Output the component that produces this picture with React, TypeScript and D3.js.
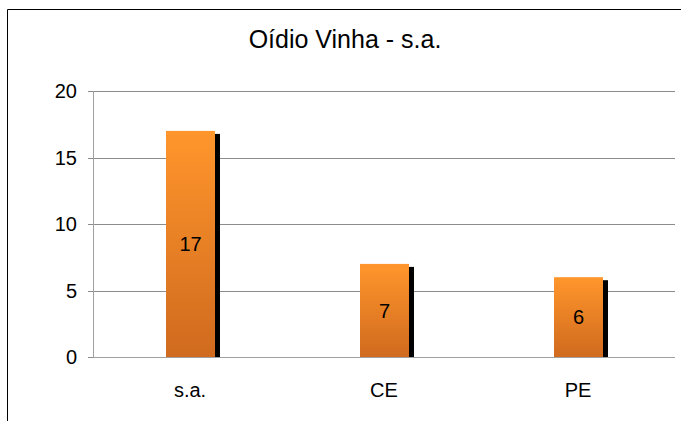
import React from "react";
import * as d3 from "d3";

const categories: string[] = ["s.a.", "CE", "PE"];
const values: number[] = [17, 7, 6];
const yTicks: number[] = [0, 5, 10, 15, 20];
const title = "Oídio Vinha - s.a.";

export default function App() {
  const W = 681;
  const H = 421;
  const left = 93;
  const right = 675;
  const top = 91;
  const bottom = 357;
  const x = d3.scaleBand<string>().domain(categories).range([left, right]).padding(0);
  const y = d3.scaleLinear().domain([0, 20]).range([bottom, top]);
  const barW = 49;
  const font = "'Liberation Sans', Arial, sans-serif";

  return (
    <svg
      width={W}
      height={H}
      style={{ position: "absolute", left: 0, top: 0, background: "#fff" }}
      fontFamily={font}
    >
      <defs>
        <linearGradient id="barGrad" x1="0" y1="0" x2="0" y2="1">
          <stop offset="0%" stopColor="#FF962C" />
          <stop offset="100%" stopColor="#D06A1E" />
        </linearGradient>
      </defs>
      <rect x={0} y={0} width={W} height={H} fill="#fff" />
      <line x1={7.5} y1={9.5} x2={W + 5} y2={9.5} stroke="#000" strokeWidth={1} />
      <line x1={7.5} y1={9.5} x2={7.5} y2={H + 5} stroke="#000" strokeWidth={1} />

      <text x={345} y={48} textAnchor="middle" fontSize={25} fill="#000">
        {title}
      </text>

      {yTicks.map((t) => (
        <g key={t}>
          <line
            x1={left}
            x2={right}
            y1={Math.round(y(t)) + 0.5}
            y2={Math.round(y(t)) + 0.5}
            stroke={t === 0 ? "#a0a0a0" : "#8c8c8c"}
            strokeWidth={1}
          />
          <line
            x1={left - 5}
            x2={left}
            y1={Math.round(y(t)) + 0.5}
            y2={Math.round(y(t)) + 0.5}
            stroke="#8c8c8c"
            strokeWidth={1}
          />
          <text
            x={77}
            y={y(t)}
            dy="0.36em"
            textAnchor="end"
            fontSize={20}
            fill="#000"
          >
            {t}
          </text>
        </g>
      ))}
      <line x1={left + 0.5} x2={left + 0.5} y1={top} y2={bottom + 1} stroke="#a0a0a0" strokeWidth={1} />

      {categories.map((c, i) => {
        const cx = (x(c) as number) + x.bandwidth() / 2;
        const bx = Math.round(cx - barW / 2);
        const by = y(values[i]);
        const bh = bottom - by;
        return (
          <g key={c}>
            <rect x={bx + barW} y={by + 3} width={5} height={bh - 3} fill="#000" />
            <rect x={bx} y={by} width={barW} height={bh} fill="url(#barGrad)" />
            <text
              x={bx + barW / 2}
              y={by + bh / 2}
              dy="0.36em"
              textAnchor="middle"
              fontSize={20}
              fill="#000"
            >
              {values[i]}
            </text>
            <text x={cx} y={390} dy="0.36em" textAnchor="middle" fontSize={20} fill="#000">
              {c}
            </text>
          </g>
        );
      })}
    </svg>
  );
}
